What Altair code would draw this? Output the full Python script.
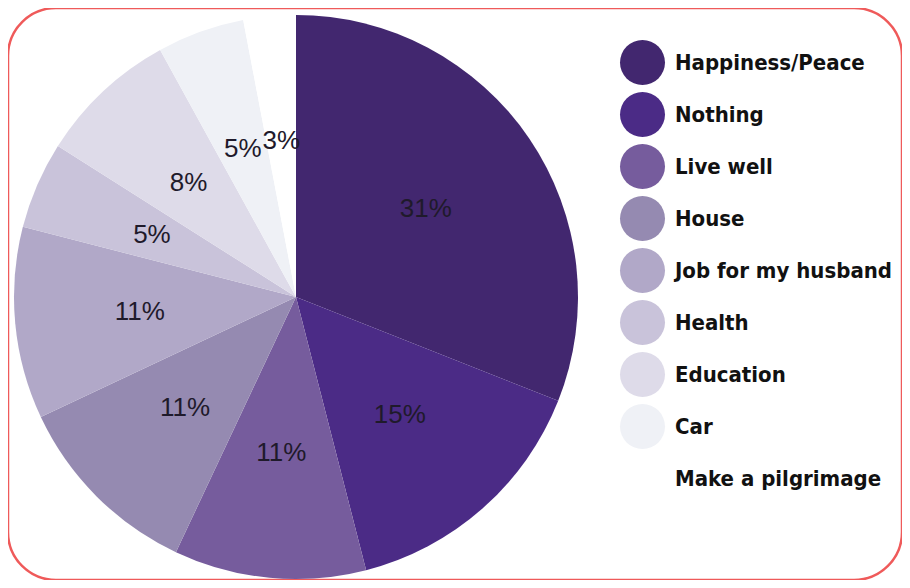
import altair as alt
import pandas as pd

categories = ["Happiness/Peace", "Nothing", "Live well", "House", "Job for my husband",
              "Health", "Education", "Car", "Make a pilgrimage"]
values = [31, 15, 11, 11, 11, 5, 8, 5, 3]
colors = ["#42276f", "#4b2b86", "#765c9d", "#958ab1", "#b1a8c8",
          "#c9c3da", "#dedbe9", "#eff1f6", "#ffffff"]

df = pd.DataFrame({
    "category": categories,
    "value": values,
    "order": list(range(len(categories))),
    "label": [f"{v}%" for v in values],
})

cx, cy = 288, 289

base = alt.Chart(df).encode(
    theta=alt.Theta("value:Q", stack=True),
    order=alt.Order("order:Q", sort="ascending"),
)

pie = base.mark_arc(outerRadius=282).encode(
    x=alt.value(cx), y=alt.value(cy),
    color=alt.Color(
        "category:N",
        scale=alt.Scale(domain=categories, range=colors),
        legend=alt.Legend(
            title=None, orient="none", legendX=612, legendY=32,
            symbolType="circle", symbolSize=2025, symbolStrokeWidth=0,
            symbolOpacity=1,
            labelFont="DejaVu Sans Condensed", labelFontSize=22,
            labelFontWeight="bold", labelColor="#111111", labelOffset=10,
            rowPadding=7, padding=0, labelLimit=400,
        ),
    ),
)

labels = base.mark_text(radius=157, font="Liberation Sans", fontSize=26,
                        color="#1f1a2b").encode(
    x=alt.value(cx), y=alt.value(cy),
    text="label:N",
)

chart = alt.layer(pie, labels).properties(
    width=894, height=572,
    autosize=alt.AutoSizeParams(type="none"),
    padding=0,
).configure_view(
    stroke="#ef5a5a", strokeWidth=2.5, cornerRadius=48, fill="white"
)

chart.save("out.html", embed_options={"renderer": "svg", "actions": False})
